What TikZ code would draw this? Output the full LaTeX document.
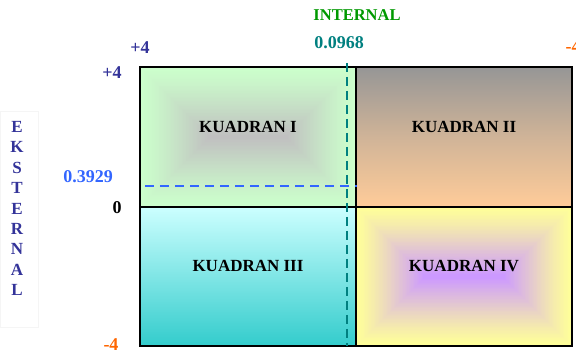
\documentclass[tikz,border=0pt]{standalone}
\usepackage{fontspec}
\setmainfont{Liberation Serif}
\definecolor{navy}{HTML}{333399}
\definecolor{orng}{HTML}{FF6600}
\definecolor{intgreen}{HTML}{009900}
\definecolor{tealc}{HTML}{008080}
\definecolor{bluec}{HTML}{3366FF}
\definecolor{qIo}{HTML}{CCFFCC}
\definecolor{qIc}{HTML}{C0C0C0}
\definecolor{qIVo}{HTML}{FFFF99}
\definecolor{qIVc}{HTML}{CC99FF}
\definecolor{qIIt}{HTML}{969696}
\definecolor{qIIb}{HTML}{FFCC99}
\definecolor{qIIIt}{HTML}{CCFFFF}
\definecolor{qIIIb}{HTML}{33CCCC}
\newcommand\boxgrad[6]{%
  \foreach \bgI in {0,...,50}{%
    \pgfmathsetmacro\bgT{\bgI/50}%
    \pgfmathsetmacro\bgP{100*(\bgT^1.2)}%
    \pgfmathsetmacro\bgD{#4*0.97*\bgT}%
    \fill[#6!\bgP!#5] (#1-#3+\bgD,#2-#4+\bgD) rectangle (#1+#3-\bgD,#2+#4-\bgD);
  }}
\tikzset{
  lbl/.style={font=\fontsize{18}{18}\selectfont\bfseries, inner sep=0pt},
  qlbl/.style={font=\fontsize{17}{17}\selectfont\bfseries, inner sep=0pt, text=black},
  eks/.style={font=\fontsize{17}{17}\selectfont\bfseries, inner sep=0pt, text=navy},
  grid/.style={line width=2.8pt, draw=black},
}
\begin{document}
\begin{tikzpicture}[x=1pt,y=1pt]
\useasboundingbox (0,0) rectangle (576,353);
% faint frame around EKSTERNAL
\draw[black!4, line width=0.5pt] (0,26) rectangle (38,242);
% quadrant fills
\boxgrad{248}{216}{108}{70}{qIo}{qIc}
\shade[top color=qIIt, bottom color=qIIb, middle color=qIIt!45!qIIb] (356,146) rectangle (572,286);
\shade[top color=qIIIt, bottom color=qIIIb] (140,7) rectangle (356,146);
\boxgrad{464}{76.5}{108}{69.5}{qIVo}{qIVc}
% grid
\draw[grid] (140,7) rectangle (572,286);
\draw[grid] (356,7) -- (356,286);
\draw[grid] (140,146) -- (572,146);
% dashed lines
\coordinate (vtop) at (347,290);
\coordinate (vbot) at (347,7);
\coordinate (hl) at (145,167);
\coordinate (hr) at (357,167);
\draw[tealc, line width=2pt, dash pattern=on 9pt off 5pt] (vtop) -- (vbot);
\draw[bluec, line width=2pt, dash pattern=on 9pt off 6pt] (hl) -- (hr);
% quadrant labels
\node[qlbl] (q1) at (248,226) {KUADRAN I};
\node[qlbl] (q2) at (464,226) {KUADRAN II};
\node[qlbl] (q3) at (248,87) {KUADRAN III};
\node[qlbl] (q4) at (464,87) {KUADRAN IV};
% axis labels
\node[lbl, text=intgreen, font=\fontsize{16.5}{16.5}\selectfont\bfseries] (int) at (357,338) {INTERNAL};
\node[lbl, text=tealc] (v1) at (339,310) {0.0968};
\node[lbl, text=navy] (tp4) at (140,305) {+4};
\node[lbl, text=orng] (tm4) at (573,306) {-4};
\node[lbl, text=navy] (lp4) at (112,280) {+4};
\node[lbl, text=bluec] (v2) at (88,176) {0.3929};
\node[lbl, text=black] (z) at (117,145) {0};
\node[lbl, text=orng] (lm4) at (111,8) {-4};
% EKSTERNAL
\foreach \ch [count=\k from 0] in {E,K,S,T,E,R,N,A,L}{
  \node[eks] (e\k) at (17,226-20.4*\k) {\ch};
}
\end{tikzpicture}
\end{document}
